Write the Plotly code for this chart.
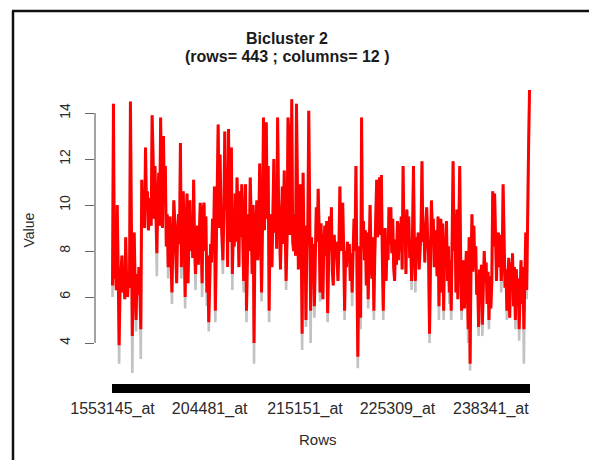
import plotly.graph_objects as go

# Expression values of the 443 rows, bicluster columns (drawn in red)
bicluster_values = [
    # rows 1-104
    6.5, 14.4, 6.8, 7.4, 6.3, 10.0, 7.2, 3.9, 6.4, 7.0,
    7.8, 6.2, 6.8, 5.9, 8.6, 6.6, 6.0, 7.1, 6.4, 14.5,
    6.9, 4.3, 7.2, 8.8, 6.5, 5.0, 7.0, 6.1, 7.3, 6.4,
    4.6, 11.1, 9.3, 10.4, 9.0, 12.5, 9.8, 10.6, 8.9, 9.9,
    10.3, 9.1, 13.9, 12.1, 9.4, 11.7, 9.8, 7.9, 10.2, 11.4,
    9.1, 13.8, 10.4, 9.0, 13.0, 10.1, 11.7, 8.2, 9.6, 7.3,
    8.9, 9.5, 7.6, 6.2, 8.4, 10.2, 9.3, 8.1, 6.6, 8.8,
    9.6, 8.3, 12.7, 7.3, 9.2, 10.6, 8.4, 6.0, 9.0, 10.5,
    6.6, 8.7, 10.2, 8.0, 9.4, 7.7, 11.1, 8.2, 7.0, 8.6,
    9.1, 7.4, 8.8, 10.1, 8.3, 6.6, 9.8, 10.1, 8.0, 9.5,
    6.2, 7.8, 4.9, 7.4,
    # rows 105-205
    8.3, 7.5, 9.4, 7.9, 10.8, 5.4, 8.6, 9.8, 13.5, 9.0,
    12.2, 9.7, 8.6, 7.6, 9.5, 13.2, 9.8, 11.6, 7.3, 13.3,
    9.2, 8.4, 12.5, 7.0, 8.9, 8.2, 10.5, 8.4, 11.2, 9.0,
    7.3, 10.6, 8.6, 10.9, 8.2, 6.7, 9.3, 10.9, 5.4, 8.8,
    9.6, 8.0, 11.2, 9.4, 7.0, 10.0, 4.0, 8.6, 9.2, 10.2,
    7.6, 9.0, 11.8, 8.5, 6.2, 9.1, 13.8, 8.9, 10.5, 13.6,
    9.4, 11.7, 5.4, 9.0, 9.6, 7.3, 10.0, 12.0, 8.8, 9.9,
    8.1, 13.8, 10.2, 9.2, 7.2, 9.6, 10.8, 8.3, 11.5, 9.0,
    6.7, 8.5, 13.8, 13.1, 8.7, 9.8, 14.6, 8.4, 8.0, 9.6,
    7.8, 14.4, 8.7, 7.2, 9.3, 10.9, 8.5, 4.4, 11.4, 8.0,
    9.1,
    # rows 206-303
    5.0, 8.2, 9.0, 14.1, 8.0, 5.4, 8.6, 7.2, 8.3, 5.6,
    7.8, 9.9, 8.4, 10.7, 8.9, 6.2, 9.2, 8.0, 5.9, 8.3,
    9.1, 7.8, 9.3, 5.3, 8.4, 9.5, 8.0, 9.9, 7.1, 6.5,
    8.7, 7.7, 8.4, 7.3, 6.7, 8.2, 10.8, 8.0, 9.2, 10.1,
    8.1, 5.4, 8.0, 7.3, 8.4, 7.6, 8.3, 6.7, 7.9, 6.2,
    8.0, 9.4, 8.0, 11.7, 7.5, 3.4, 7.0, 8.2, 5.1, 13.8,
    8.1, 9.3, 7.6, 8.9, 6.5, 8.8, 5.9, 8.4, 10.0, 7.8,
    6.8, 8.6, 5.4, 7.8, 9.4, 11.1, 8.6, 10.0, 11.2, 8.7,
    11.3, 7.7, 5.4, 8.0, 9.0, 6.7, 8.4, 7.6, 9.9, 8.3,
    9.9, 7.9, 9.4, 7.3, 6.7, 8.5, 7.4, 9.3,
    # rows 304-404
    7.6, 9.2, 8.0, 9.5, 7.2, 11.7, 8.4, 9.6, 7.0, 9.8,
    8.3, 9.5, 7.7, 8.5, 6.7, 8.8, 11.7, 8.0, 6.7, 8.6,
    7.9, 8.8, 7.2, 8.0, 8.9, 11.9, 8.4, 9.1, 7.5, 9.2,
    9.9, 8.6, 7.8, 4.4, 8.2, 10.2, 9.0, 9.4, 7.3, 8.9,
    8.4, 6.9, 9.5, 5.6, 8.3, 9.4, 6.2, 9.2, 5.4, 8.6,
    8.0, 9.3, 6.7, 8.2, 6.2, 7.6, 5.4, 8.1, 11.9, 8.0,
    9.6, 6.2, 9.8, 5.9, 8.3, 11.7, 7.8, 5.4, 7.0, 7.6,
    5.5, 7.2, 8.0, 6.6, 4.6, 8.6, 3.1, 7.4, 9.6, 7.1,
    9.1, 7.3, 8.2, 6.1, 7.0, 4.7, 7.2, 6.0, 7.4, 4.8,
    7.2, 8.0, 6.6, 7.5, 5.7, 7.1, 5.0, 6.9, 5.5, 6.6,
    10.6,
    # rows 405-443
    8.2, 10.5, 7.6, 6.7, 8.4, 8.8, 7.3, 8.7, 6.7, 7.5,
    10.9, 7.4, 6.4, 7.2, 5.4, 6.8, 7.7, 5.1, 7.5, 6.4,
    7.9, 5.6, 7.3, 5.0, 7.2, 5.6, 6.8, 4.6, 7.0, 7.6,
    5.7, 7.3, 4.6, 6.4, 8.8, 6.3, 10.9, 12.5, 15.0,
]

# Rows where the remaining columns (grey) dip below the bicluster columns
other_low_rows = [
    1, 8, 22, 26, 31, 48, 60, 64, 74, 78, 89, 96, 101, 103, 110, 118, 128,
    140, 143, 151, 159, 167, 185, 202, 206, 211, 215, 221, 229, 247, 255,
    261, 264, 272, 278, 288, 318, 322, 337, 347, 352, 358, 360, 371, 378,
    380, 389, 393, 400, 413, 419, 428, 432, 437, 440,
]
other_low_values = [
    6.0, 3.1, 2.7, 4.5, 3.3, 6.9, 6.8, 5.7, 6.8, 5.5, 6.3, 6.0, 5.6, 4.5, 4.9,
    7.0, 6.3, 6.2, 4.9, 3.1, 5.8, 4.9, 6.3, 3.7, 4.7, 4.0, 5.1, 5.8, 4.9,
    5.0, 5.6, 2.9, 4.6, 5.5, 5.0, 5.0, 6.3, 6.2, 4.0, 5.0, 5.0, 5.7, 5.0,
    5.0, 4.0, 2.8, 4.3, 4.3, 4.6, 6.2, 5.0, 4.6, 4.1, 3.1, 5.9,
]

# Probe set names shown on the row axis
label_rows = [1, 104, 205, 303, 402]
label_names = ["1553145_at", "204481_at", "215151_at", "225309_at", "238341_at"]

y_ticks = [4, 6, 8, 10, 12, 14]

rows = list(range(1, len(bicluster_values) + 1))
other_values = list(bicluster_values)
for r, v in zip(other_low_rows, other_low_values):
    other_values[r - 1] = v

tick_text = [""] * len(rows)
for r, name in zip(label_rows, label_names):
    tick_text[r - 1] = name

FONT = "Liberation Sans, Arial, Helvetica, sans-serif"

fig = go.Figure()
fig.add_trace(go.Scatter(
    x=rows, y=other_values, mode="lines",
    line=dict(color="#c2c2c2", width=2.6), hoverinfo="skip", showlegend=False,
))
fig.add_trace(go.Scatter(
    x=rows, y=bicluster_values, mode="lines",
    line=dict(color="#ff0000", width=3), showlegend=False,
))

# plot region: x 95..545 px, y 78..383 px
L, R, T, B = 95, 545, 78, 383
W, H = R - L, B - T


def px(xp):
    return (xp - L) / W


def py(yp):
    return (B - yp) / H


fig.update_layout(
    width=589, height=460, autosize=False,
    margin=dict(l=L, r=589 - R, t=T, b=460 - B, pad=0),
    paper_bgcolor="white", plot_bgcolor="white",
    font=dict(family=FONT, color="#2a2a2a"),
    xaxis=dict(
        range=[-17.55, 459.4], tickmode="array", tickvals=rows, ticktext=tick_text,
        ticks="outside", ticklen=9, tickwidth=1.3, tickcolor="#000",
        showgrid=False, zeroline=False, showline=False,
        tickfont=dict(size=16, color="#2a2a2a", family=FONT), ticklabelstandoff=2,
    ),
    yaxis=dict(
        range=[2.261, 15.522], tickmode="array", tickvals=y_ticks,
        ticktext=[str(v) for v in y_ticks], tickangle=-90,
        ticks="outside", ticklen=9, tickwidth=1, tickcolor="#666",
        showgrid=False, zeroline=False, showline=False,
        tickfont=dict(size=14, color="#2a2a2a", family=FONT), ticklabelstandoff=9,
    ),
    shapes=[
        # y axis line spanning the first to last tick
        dict(type="line", xref="paper", yref="y", x0=0, x1=0, y0=y_ticks[0], y1=y_ticks[-1],
             line=dict(color="#666", width=1.2)),
        # outer frame (top and left edges)
        dict(type="line", xref="paper", yref="paper", x0=px(12), x1=px(589), y0=py(11), y1=py(11),
             line=dict(color="#111", width=2.5)),
        dict(type="line", xref="paper", yref="paper", x0=px(13), x1=px(13), y0=py(11), y1=py(460),
             line=dict(color="#111", width=2.5)),
    ],
    annotations=[
        dict(text="<b>Bicluster 2</b>", xref="paper", yref="paper", x=px(287), y=py(38),
             showarrow=False, font=dict(size=16, color="#1a1a1a", family=FONT), xanchor="center", yanchor="middle"),
        dict(text="<b>(rows= 443 ; columns= 12 )</b>", xref="paper", yref="paper", x=px(287), y=py(56),
             showarrow=False, font=dict(size=16, color="#1a1a1a", family=FONT), xanchor="center", yanchor="middle"),
        dict(text="Value", xref="paper", yref="paper", x=px(28), y=0.5, textangle=-90,
             showarrow=False, font=dict(size=14, color="#2a2a2a", family=FONT), xanchor="center", yanchor="middle"),
        dict(text="Rows", xref="paper", yref="paper", x=px(318), y=py(439),
             showarrow=False, font=dict(size=15, color="#2a2a2a", family=FONT), xanchor="center", yanchor="middle"),
    ],
)

fig.write_html("out.html")
